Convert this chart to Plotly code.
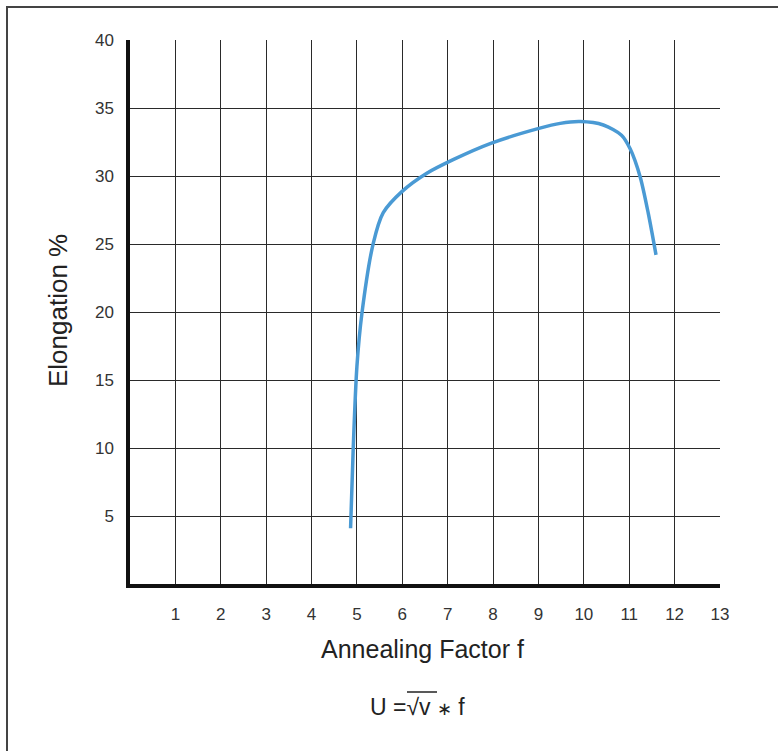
import plotly.graph_objects as go

# Data
annealing_factor = [4.86, 4.92, 5.00, 5.11, 5.36, 5.58, 5.99, 6.54, 7.12, 7.95, 9.01, 9.48, 9.92, 10.43, 10.83, 11.02, 11.24, 11.42, 11.59]
elongation = [4.1, 10.1, 16.0, 19.9, 25.05, 27.3, 28.85, 30.2, 31.2, 32.4, 33.5, 33.87, 34.0, 33.75, 33.0, 32.0, 29.95, 27.25, 24.2]

x_tick_vals = [1, 2, 3, 4, 5, 6, 7, 8, 9, 10, 11, 12, 13]
y_tick_vals = [5, 10, 15, 20, 25, 30, 35, 40]

FONT = "Liberation Sans, Arial, sans-serif"

fig = go.Figure()
fig.add_trace(go.Scatter(
    x=annealing_factor, y=elongation, mode="lines",
    line=dict(color="#4a9ad4", width=3.5, shape="spline", smoothing=0.8),
    showlegend=False, hoverinfo="x+y",
))

W, H = 778, 751
L, R, T, B = 130, 58, 40, 167

fig.update_layout(
    width=W, height=H,
    margin=dict(l=L, r=R, t=T, b=B),
    paper_bgcolor="white", plot_bgcolor="white",
    font=dict(family=FONT, color="#222"),
    xaxis=dict(range=[0, 13], tickvals=x_tick_vals, ticktext=[str(v) for v in x_tick_vals],
               showgrid=True, gridcolor="#2a2a2a", gridwidth=1,
               showline=True, linecolor="#111", linewidth=3.5,
               ticks="", ticklabelstandoff=12, tickfont=dict(size=17, color="#333"),
               zeroline=False, fixedrange=True),
    yaxis=dict(range=[0, 40], tickvals=y_tick_vals, ticktext=[str(v) for v in y_tick_vals],
               showgrid=True, gridcolor="#2a2a2a", gridwidth=1,
               showline=True, linecolor="#111", linewidth=3.5,
               ticks="", ticklabelstandoff=9, tickfont=dict(size=17, color="#333"),
               zeroline=False, fixedrange=True),
)

pw, ph = W - L - R, H - T - B

def px(xp):
    return (xp - L) / pw

def py(yp):
    return (T + ph - yp) / ph

fig.update_layout(annotations=[
    dict(text="Elongation %", xref="paper", yref="paper", x=px(58), y=py(311),
         textangle=-90, showarrow=False, font=dict(size=26, color="#222"),
         xanchor="center", yanchor="middle"),
    dict(text="Annealing Factor f", xref="paper", yref="paper", x=px(422), y=py(649),
         showarrow=False, font=dict(size=25, color="#222"), xanchor="center", yanchor="middle"),
    dict(text="U =√v <span style='font-size:18px'>∗</span> f", xref="paper", yref="paper",
         x=px(368), y=py(707),
         showarrow=False, font=dict(size=23, color="#222"), xanchor="left", yanchor="middle"),
])

fig.update_layout(shapes=[
    # outer frame
    dict(type="rect", xref="paper", yref="paper", x0=px(7), y0=py(800), x1=px(800), y1=py(7),
         line=dict(color="#444", width=2), fillcolor="rgba(0,0,0,0)", layer="below"),
    # overline of the square root
    dict(type="line", xref="paper", yref="paper", x0=px(407), y0=py(692), x1=px(437), y1=py(692),
         line=dict(color="#222", width=1.5)),
])

fig.write_html("out.html", config={"displayModeBar": False},
               post_script="document.body.style.margin='0';")
